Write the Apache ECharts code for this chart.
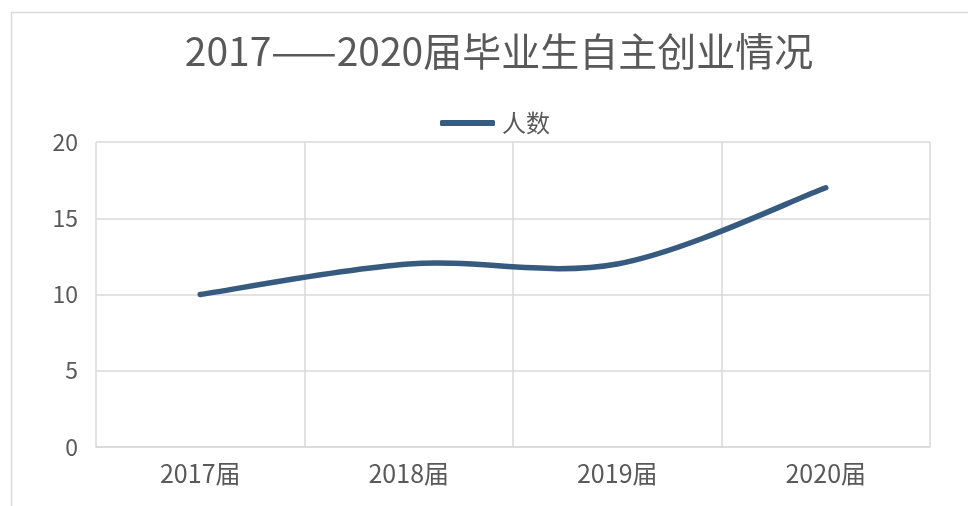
<!DOCTYPE html>
<html>
<head>
<meta charset="utf-8">
<script src="https://cdn.jsdelivr.net/npm/echarts@6/dist/echarts.min.js"></script>
<style>
  html, body { margin: 0; padding: 0; background: #fff; }
  #main { width: 968px; height: 506px; }
</style>
</head>
<body>
<div id="main"></div>
<script>
// Chart data
const categories = ['2017届', '2018届', '2019届', '2020届'];
const peopleCount = [10, 12, 12, 17];
const yTicks = { min: 0, max: 20, interval: 5 };

const lineColor = '#375a7f';
const chart = echarts.init(document.getElementById('main'));
const font = '"Noto Sans CJK SC", "Noto Sans", sans-serif';

// Excel-like smoothed line (Catmull-Rom -> bezier), points come from the axis scales
function renderSmoothLine(params, api) {
  if (params.dataIndex !== 0) return null;
  const pts = peopleCount.map((v, i) => api.coord([i, v]));
  let d = 'M' + pts[0][0] + ' ' + pts[0][1];
  for (let i = 0; i < pts.length - 1; i++) {
    const p0 = pts[i - 1] || pts[i];
    const p1 = pts[i];
    const p2 = pts[i + 1];
    const p3 = pts[i + 2] || pts[i + 1];
    const c1 = [p1[0] + (p2[0] - p0[0]) / 6, p1[1] + (p2[1] - p0[1]) / 6];
    const c2 = [p2[0] - (p3[0] - p1[0]) / 6, p2[1] - (p3[1] - p1[1]) / 6];
    d += ' C' + c1[0] + ' ' + c1[1] + ' ' + c2[0] + ' ' + c2[1] + ' ' + p2[0] + ' ' + p2[1];
  }
  return {
    type: 'path',
    shape: { pathData: d },
    style: { fill: 'none', stroke: lineColor, lineWidth: 5.5, lineCap: 'round', lineJoin: 'round' }
  };
}

chart.setOption({
  animation: false,
  textStyle: { fontFamily: font },
  graphic: [
    {
      type: 'rect',
      shape: { x: 11.5, y: 12.5, width: 1000, height: 600 },
      style: { fill: 'none', stroke: '#d9d9d9', lineWidth: 1.5 },
      silent: true,
      z: -1
    }
  ],
  title: {
    text: '2017——2020届毕业生自主创业情况',
    left: 494,
    textAlign: 'center',
    top: 27,
    textStyle: { fontFamily: font, fontSize: 39, fontWeight: 'normal', color: '#595959' }
  },
  legend: {
    data: [{ name: '人数', icon: 'roundRect', itemStyle: { color: lineColor } }],
    left: 435,
    top: 106,
    itemWidth: 55,
    itemHeight: 6,
    itemGap: 7,
    textStyle: { fontFamily: font, fontSize: 24, color: '#595959', padding: [0, 0, 0, 2] }
  },
  grid: { left: 96, right: 38, top: 142, bottom: 59 },
  xAxis: {
    type: 'category',
    data: categories,
    boundaryGap: true,
    axisLine: { show: true, lineStyle: { color: '#d9d9d9', width: 1.5 } },
    axisTick: { show: false },
    axisLabel: { fontSize: 25, color: '#595959', margin: 14, fontFamily: font },
    splitLine: { show: true, lineStyle: { color: '#d9d9d9', width: 1.5 } }
  },
  yAxis: {
    type: 'value',
    min: yTicks.min,
    max: yTicks.max,
    interval: yTicks.interval,
    axisLine: { show: false },
    axisTick: { show: false },
    axisLabel: { fontSize: 23, color: '#595959', margin: 18, fontFamily: font },
    splitLine: { show: true, lineStyle: { color: '#d9d9d9', width: 1.5 } }
  },
  series: [
    {
      name: '人数',
      type: 'custom',
      data: peopleCount.map((v, i) => [i, v]),
      encode: { x: 0, y: 1 },
      renderItem: renderSmoothLine,
      itemStyle: { color: lineColor },
      z: 3
    }
  ]
});
</script>
</body>
</html>
